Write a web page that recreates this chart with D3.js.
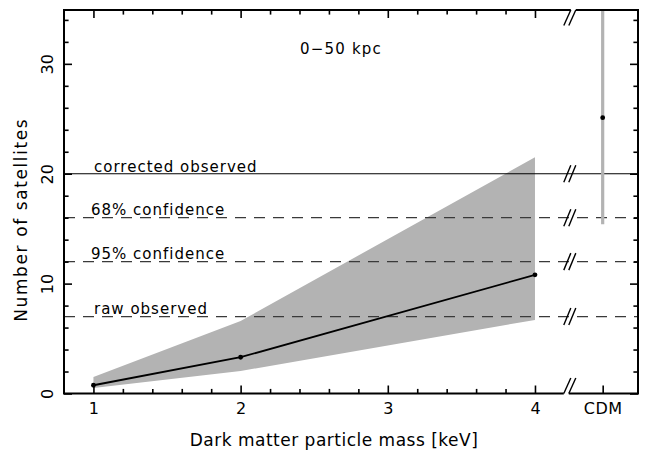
<!DOCTYPE html>
<html>
<head>
<meta charset="utf-8">
<script src="https://cdn.jsdelivr.net/npm/d3@7/dist/d3.min.js"></script>
<style>
  html, body { margin: 0; padding: 0; background: #fff; }
  svg { display: block; }
  text { font-family: "DejaVu Sans", sans-serif; fill: #000; }
</style>
</head>
<body>
<script>
// ---------------- data ----------------
const massKeV   = [1, 2, 4];
const meanSat   = [0.75, 3.3, 10.8];
const bandLow   = [0.5, 2.05, 6.7];
const bandHigh  = [1.5, 6.6, 21.5];
const cdmLabel  = "CDM";
const cdmMean   = 25.1;
const cdmLow    = 15.4;
const cdmHigh   = 36;
const refLabels = ["corrected observed", "68% confidence", "95% confidence", "raw observed"];
const refValues = [20, 16, 12, 7];
const refDashed = [false, true, true, true];
const xTickValues = [1, 2, 3, 4];
const yTickValues = [0, 10, 20, 30];
const panelLabel = "0\u221250 kpc";
const xTitle = "Dark matter particle mass [keV]";
const yTitle = "Number of satellites";

// ---------------- layout ----------------
const W = 645, H = 456;
const L = 64, R = 638, T = 10, B = 393.5;
const cdmPos = 4.46;      // axis position of the CDM column
const breakPos = 4.24;    // axis position of the // break

const svg = d3.select("body").append("svg").attr("width", W).attr("height", H);

const x = d3.scaleLinear().domain([0.8, 4.7]).range([L, R]);
const y = d3.scaleLinear().domain([0, 34.9]).range([B, T]);

const bx = x(breakPos);

svg.append("clipPath").attr("id", "plotclip")
  .append("rect").attr("x", L).attr("y", T).attr("width", R - L).attr("height", B - T);

// band
const bandData = massKeV.map((m, i) => ({ m, lo: bandLow[i], hi: bandHigh[i] }));
svg.append("path")
  .datum(bandData)
  .attr("d", d3.area().x(d => x(d.m)).y0(d => y(d.lo)).y1(d => y(d.hi)))
  .attr("fill", "#b3b3b3");

// reference lines
refValues.forEach((v, i) => {
  svg.append("line")
    .attr("x1", L).attr("x2", R).attr("y1", y(v)).attr("y2", y(v))
    .attr("stroke", refDashed[i] ? "#3a3a3a" : "#000")
    .attr("stroke-width", 1.2)
    .attr("stroke-dasharray", refDashed[i] ? "11,8" : null);
  [0, 5].forEach(o => {
    svg.append("line")
      .attr("x1", bx - 6.5 + o).attr("y1", y(v) + 8.5)
      .attr("x2", bx + 0.5 + o).attr("y2", y(v) - 8.5)
      .attr("stroke", "#000").attr("stroke-width", 1.4);
  });
});

// labels for reference lines
const labelX = [94, 91, 91, 94];
refValues.forEach((v, i) => {
  svg.append("text")
    .attr("x", labelX[i]).attr("y", y(v) - 2.2)
    .attr("font-size", 15).attr("letter-spacing", 1)
    .text(refLabels[i]);
});

// mean line and points
const lineData = massKeV.map((m, i) => ({ m, v: meanSat[i] }));
svg.append("path")
  .datum(lineData)
  .attr("d", d3.line().x(d => x(d.m)).y(d => y(d.v)))
  .attr("fill", "none").attr("stroke", "#000").attr("stroke-width", 1.8);
svg.selectAll("circle.pt").data(lineData).enter().append("circle")
  .attr("class", "pt").attr("cx", d => x(d.m)).attr("cy", d => y(d.v)).attr("r", 2.4)
  .attr("fill", "#000");

// axes (ticks only, frame drawn separately)
function styleAxis(g) {
  g.select(".domain").remove();
  g.selectAll(".tick line").attr("stroke", "#000").attr("stroke-width", 1.6);
}
const xMajor = xTickValues.concat([cdmPos]);
const xMinor = d3.range(1.2, 4.01, 0.2).filter(v => Math.abs(v - Math.round(v)) > 1e-6);
const yMinor = d3.range(2, 35, 2).filter(v => v % 10 !== 0);

// bottom
const gB = svg.append("g").attr("transform", `translate(0,${B})`)
  .call(d3.axisBottom(x).tickValues(xMajor).tickSize(-8).tickPadding(14)
    .tickFormat(d => d === cdmPos ? cdmLabel : d3.format("d")(d)));
styleAxis(gB);
gB.selectAll(".tick text").attr("font-size", 16).attr("font-family", "DejaVu Sans, sans-serif").attr("fill", "#000")
  .attr("dy", "0.71em").attr("y", 9).attr("letter-spacing", d => d === cdmPos ? 0.5 : 0);
const gBm = svg.append("g").attr("transform", `translate(0,${B})`)
  .call(d3.axisBottom(x).tickValues(xMinor).tickSize(-4.6).tickFormat(""));
styleAxis(gBm);

// top
const gT = svg.append("g").attr("transform", `translate(0,${T})`)
  .call(d3.axisTop(x).tickValues(xMajor).tickSize(-8).tickFormat(""));
styleAxis(gT);
const gTm = svg.append("g").attr("transform", `translate(0,${T})`)
  .call(d3.axisTop(x).tickValues(xMinor).tickSize(-4.6).tickFormat(""));
styleAxis(gTm);

// left
const gL = svg.append("g").attr("transform", `translate(${L},0)`)
  .call(d3.axisLeft(y).tickValues(yTickValues).tickSize(-8).tickFormat(d3.format("d")));
styleAxis(gL);
gL.selectAll(".tick text")
  .attr("font-size", 16).attr("font-family", "DejaVu Sans, sans-serif").attr("fill", "#000")
  .attr("x", null).attr("dy", null)
  .attr("text-anchor", "middle")
  .attr("transform", "translate(-11,0) rotate(-90)")
  .attr("y", 0);
const gLm = svg.append("g").attr("transform", `translate(${L},0)`)
  .call(d3.axisLeft(y).tickValues(yMinor).tickSize(-4.6).tickFormat(""));
styleAxis(gLm);

// right
const gR = svg.append("g").attr("transform", `translate(${R},0)`)
  .call(d3.axisRight(y).tickValues(yTickValues).tickSize(-8).tickFormat(""));
styleAxis(gR);
const gRm = svg.append("g").attr("transform", `translate(${R},0)`)
  .call(d3.axisRight(y).tickValues(yMinor).tickSize(-4.6).tickFormat(""));
styleAxis(gRm);

// CDM bar and point
svg.append("line")
  .attr("x1", x(cdmPos)).attr("x2", x(cdmPos))
  .attr("y1", y(cdmLow)).attr("y2", y(cdmHigh))
  .attr("clip-path", "url(#plotclip)")
  .attr("stroke", "#b3b3b3").attr("stroke-width", 3.2);
svg.append("circle").attr("cx", x(cdmPos)).attr("cy", y(cdmMean)).attr("r", 2.4).attr("fill", "#000");

// frame with breaks
const frame = svg.append("g").attr("stroke", "#000").attr("stroke-width", 2).attr("fill", "none");
frame.append("path").attr("d", `M${bx - 6.5},${B} H${L} V${T} H${bx + 0.5}`);
frame.append("path").attr("d", `M${bx - 1.5},${B} H${R} V${T} H${bx + 5.5}`);
[0, 5].forEach(o => {
  frame.append("line")
    .attr("x1", bx - 6.5 + o).attr("y1", B)
    .attr("x2", bx + 0.5 + o).attr("y2", B - 15.5)
    .attr("stroke-width", 1.4);
  frame.append("line")
    .attr("x1", bx - 6.5 + o).attr("y1", T + 15.5)
    .attr("x2", bx + 0.5 + o).attr("y2", T)
    .attr("stroke-width", 1.4);
});

// panel label
svg.append("text").attr("x", 300).attr("y", 54).attr("font-size", 15).attr("letter-spacing", 1.2)
  .text(panelLabel);

// axis titles
svg.append("text")
  .attr("x", 334).attr("y", 446)
  .attr("text-anchor", "middle").attr("font-size", 17).attr("letter-spacing", 0.5)
  .text(xTitle);
svg.append("text")
  .attr("transform", `translate(27,${(T + B) / 2 + 18}) rotate(-90)`)
  .attr("text-anchor", "middle").attr("font-size", 17).attr("letter-spacing", 1.6)
  .text(yTitle);
</script>
</body>
</html>
